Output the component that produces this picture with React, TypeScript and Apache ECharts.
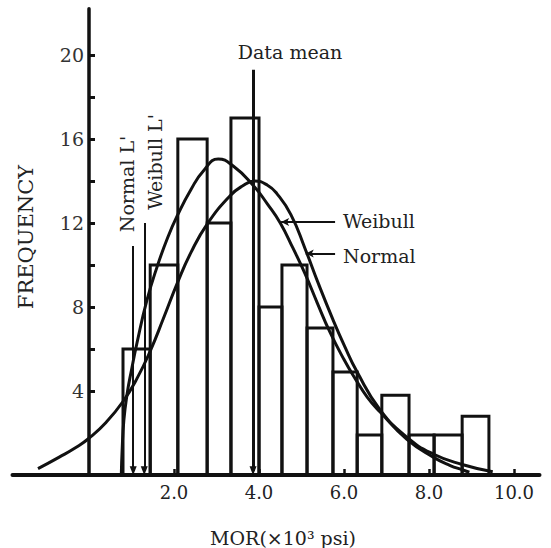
import React, { useEffect, useRef } from "react";
import * as echarts from "echarts";

// Histogram bins (MOR, ×10³ psi) and frequencies
const binStart = [0.8, 1.44, 2.09, 2.78, 3.34, 4.0, 4.54, 5.13, 5.74, 6.31, 6.89, 7.53, 8.12, 8.78];
const binEnd = [1.44, 2.09, 2.78, 3.34, 4.0, 4.54, 5.13, 5.74, 6.31, 6.89, 7.53, 8.12, 8.78, 9.41];
const frequency = [6, 10, 16, 12, 17, 8, 10, 7, 4.9, 1.9, 3.8, 1.9, 1.9, 2.8];

// Fitted curves
const normalX = [-1.2, -0.7, -0.3, 0, 0.4, 0.8, 1.13, 1.44, 1.75, 2.09, 2.4, 2.78, 3.32, 3.6, 3.9, 4.2, 4.42, 4.75, 5.08, 5.4, 5.74, 6.0, 6.31, 6.85, 7.48, 8.1, 8.78, 9.5];
const normalY = [0.3, 0.85, 1.32, 1.75, 2.5, 3.5, 4.6, 5.9, 7.45, 9.2, 10.6, 11.95, 13.3, 13.75, 14.0, 13.8, 13.4, 12.4, 10.8, 9.1, 7.4, 6.2, 4.9, 3.1, 1.8, 1.0, 0.5, 0.15];
const weibullX = [0.76, 0.78, 0.82, 0.9, 1.0, 1.13, 1.36, 1.6, 1.85, 2.09, 2.4, 2.7, 3.04, 3.4, 3.86, 4.2, 4.5, 4.8, 5.08, 5.37, 5.67, 6.0, 6.26, 6.55, 6.85, 7.48, 8.1, 8.5, 8.78, 8.95];
const weibullY = [0, 1.2, 2.6, 3.9, 5.0, 6.3, 8.3, 9.9, 11.3, 12.4, 13.6, 14.5, 15.05, 14.7, 13.8, 12.9, 12.0, 10.8, 9.6, 8.2, 6.8, 5.5, 4.6, 3.7, 3.0, 1.7, 0.85, 0.45, 0.25, 0.13];

// Annotation markers (data coordinates)
const dataMeanX = 3.86;
const dataMeanTop = 19.3;
const normalLX = 1.04;
const normalLTop = 10.9;
const weibullLX = 1.3;
const weibullLTop = 12.0;
const weibullPointer = [[5.79, 12.05], [4.52, 12.05]];
const normalPointer = [[5.79, 10.55], [5.1, 10.55]];

// Axis ticks
const xTickValues = [2, 4, 6, 8, 10];
const yLabelValues = [4, 8, 12, 16, 20];
const yTickValues = [4, 6, 8, 10, 12, 14, 16, 18, 20];

const FONT = "DejaVu Serif";
const INK = "#111";

export default function App() {
  const ref = useRef<HTMLDivElement>(null);
  useEffect(() => {
    document.body.style.margin = "0";
    const chart = echarts.init(ref.current!, undefined, { renderer: "svg" });
    const histData = binStart.map((s, i) => [s, binEnd[i], frequency[i]]);
    const lineStyleArrow = { color: INK, width: 2, type: "solid" as const };
    const gridLeft = 12.5;
    const xMin = -1.8;
    const xMax = 10.6;
    const gridRight = 11.5;
    const pxPerUnit = (551 - gridLeft - gridRight) / (xMax - xMin);
    chart.setOption({
      animation: false,
      backgroundColor: "#fff",
      grid: { left: gridLeft, right: gridRight, top: 8.8, bottom: 73, containLabel: false, outerBoundsMode: "none" },
      xAxis: {
        type: "value",
        min: xMin,
        max: xMax,
        axisLine: { onZero: true, lineStyle: { color: INK, width: 4 } },
        axisTick: { show: true, inside: true, length: 6, customValues: xTickValues, lineStyle: { color: INK, width: 2.5 } },
        axisLabel: {
          customValues: xTickValues,
          formatter: (v: number) => v.toFixed(1),
          margin: 8,
          fontFamily: FONT,
          fontSize: 18,
          color: "#222",
        },
        splitLine: { show: false },
      },
      yAxis: {
        type: "value",
        min: 0,
        max: 22.2,
        offset: xMin * pxPerUnit,
        axisLine: { show: true, onZero: false, lineStyle: { color: INK, width: 3.5 } },
        axisTick: { show: true, inside: true, length: 6, customValues: yTickValues, lineStyle: { color: INK, width: 3 } },
        axisLabel: {
          customValues: yLabelValues,
          margin: 5,
          fontFamily: FONT,
          fontSize: 19,
          color: "#333",
        },
        splitLine: { show: false },
      },
      series: [
        {
          type: "custom",
          data: histData,
          encode: { x: [0, 1], y: 2 },
          renderItem: (params: any, api: any) => {
            const p0 = api.coord([api.value(0), 0]);
            const p1 = api.coord([api.value(1), api.value(2)]);
            return {
              type: "rect",
              shape: { x: p0[0], y: p1[1], width: p1[0] - p0[0], height: p0[1] - p1[1] },
              style: { fill: "none", stroke: INK, lineWidth: 3 },
            };
          },
          z: 2,
        },
        {
          type: "line",
          name: "Normal",
          data: normalX.map((x, i) => [x, normalY[i]]),
          smooth: 0.5,
          showSymbol: false,
          symbol: "none",
          lineStyle: { color: INK, width: 3 },
          z: 3,
          markLine: {
            silent: true,
            symbol: ["none", "triangle"],
            symbolSize: [7, 9],
            label: { show: false },
            lineStyle: lineStyleArrow,
            data: [
              [{ coord: [dataMeanX, dataMeanTop], lineStyle: { width: 3 } }, { coord: [dataMeanX, 0.2] }],
              [{ coord: [normalLX, normalLTop] }, { coord: [normalLX, 0.2] }],
              [{ coord: [weibullLX, weibullLTop] }, { coord: [weibullLX, 0.2] }],
            ],
          },
        },
        {
          type: "line",
          name: "Weibull",
          data: weibullX.map((x, i) => [x, weibullY[i]]),
          smooth: 0.5,
          showSymbol: false,
          symbol: "none",
          lineStyle: { color: INK, width: 3 },
          z: 3,
          markLine: {
            silent: true,
            symbol: ["none", "arrow"],
            symbolSize: [6, 8],
            label: { show: false },
            lineStyle: lineStyleArrow,
            data: [
              [{ coord: weibullPointer[0] }, { coord: weibullPointer[1] }],
              [{ coord: normalPointer[0] }, { coord: normalPointer[1] }],
            ],
          },
        },
      ],
      graphic: [
        { type: "text", x: 290, y: 52, style: { text: "Data mean", font: `19px '${FONT}'`, fill: "#222", align: "center", verticalAlign: "middle" } },
        { type: "text", x: 343, y: 221, style: { text: "Weibull", font: `19px '${FONT}'`, fill: "#222", align: "left", verticalAlign: "middle" } },
        { type: "text", x: 343, y: 256, style: { text: "Normal", font: `19px '${FONT}'`, fill: "#222", align: "left", verticalAlign: "middle" } },
        { type: "text", x: 127, y: 184, rotation: Math.PI / 2, style: { text: "Normal L'", font: `19px '${FONT}'`, fill: "#222", align: "center", verticalAlign: "middle" } },
        { type: "text", x: 155, y: 162, rotation: Math.PI / 2, style: { text: "Weibull L'", font: `19px '${FONT}'`, fill: "#222", align: "center", verticalAlign: "middle" } },
        { type: "text", x: 26, y: 237, rotation: Math.PI / 2, style: { text: "FREQUENCY", font: `21px '${FONT}'`, fill: "#222", align: "center", verticalAlign: "middle" } },
        { type: "text", x: 283, y: 538, style: { text: "MOR(×10³ psi)", font: `19px '${FONT}'`, fill: "#222", align: "center", verticalAlign: "middle" } },
      ],
    });
    return () => chart.dispose();
  }, []);
  return <div ref={ref} style={{ position: "fixed", left: 0, top: 0, width: 551, height: 548 }} />;
}
